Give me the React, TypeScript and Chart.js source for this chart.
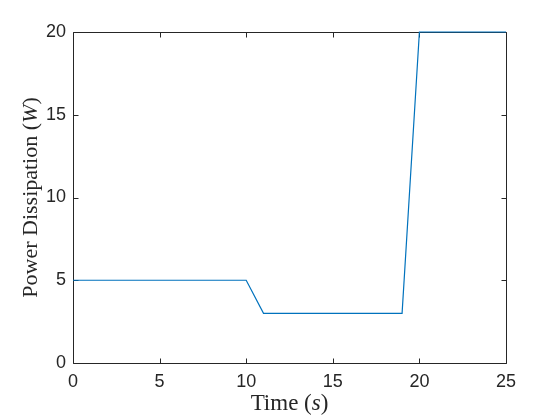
import React, { useEffect, useRef } from "react";
import { Chart, registerables } from "chart.js";

Chart.register(...registerables);

const timeValues = [0, 10, 11, 19, 20, 25];
const powerValues = [5, 5, 3, 3, 20, 20];
const xTicks = [0, 5, 10, 15, 20, 25];
const yTicks = [0, 5, 10, 15, 20];

const AXIS_COLOR = "#262626";
const LINE_COLOR = "#0072BD";
const TICK_FONT = "Liberation Sans";
const TITLE_FONT = "Liberation Serif";

function drawParts(ctx: CanvasRenderingContext2D, parts: { t: string; italic: boolean }[], size: number) {
  const widths = parts.map((p) => {
    ctx.font = `${p.italic ? "italic " : ""}${size}px "${TITLE_FONT}"`;
    return ctx.measureText(p.t).width;
  });
  const total = widths.reduce((a, b) => a + b, 0);
  let x = -total / 2;
  parts.forEach((p, i) => {
    ctx.font = `${p.italic ? "italic " : ""}${size}px "${TITLE_FONT}"`;
    ctx.fillText(p.t, x, 0);
    x += widths[i];
  });
}

const framePlugin = {
  id: "matlabFrame",
  beforeDatasetsDraw(chart: any) {
    const ctx = chart.ctx as CanvasRenderingContext2D;
    const { left, right, top, bottom } = chart.chartArea;
    const xs = chart.scales.x;
    const ys = chart.scales.y;
    ctx.save();
    ctx.strokeStyle = AXIS_COLOR;
    ctx.lineWidth = 1;
    const l = Math.round(left) + 0.5;
    const r = Math.round(right) + 0.5;
    const t = Math.round(top) + 0.5;
    const b = Math.round(bottom) + 0.5;
    ctx.beginPath();
    ctx.rect(l, t, r - l, b - t);
    const tl = 5;
    xTicks.forEach((v) => {
      const px = Math.round(xs.getPixelForValue(v)) + 0.5;
      ctx.moveTo(px, b);
      ctx.lineTo(px, b - tl);
      ctx.moveTo(px, t);
      ctx.lineTo(px, t + tl);
    });
    yTicks.forEach((v) => {
      const py = Math.round(ys.getPixelForValue(v)) + 0.5;
      ctx.moveTo(l, py);
      ctx.lineTo(l + tl, py);
      ctx.moveTo(r, py);
      ctx.lineTo(r - tl, py);
    });
    ctx.stroke();
    ctx.restore();
  },
  afterDraw(chart: any) {
    const ctx = chart.ctx as CanvasRenderingContext2D;
    const { left, right, top, bottom } = chart.chartArea;
    ctx.save();
    ctx.fillStyle = AXIS_COLOR;
    ctx.textBaseline = "alphabetic";
    ctx.textAlign = "left";
    // x title
    ctx.save();
    ctx.translate((left + right) / 2, 410);
    drawParts(ctx, [
      { t: "Time (", italic: false },
      { t: "s", italic: true },
      { t: ")", italic: false },
    ], 23);
    ctx.restore();
    // y title
    ctx.save();
    ctx.translate(37, (top + bottom) / 2);
    ctx.rotate(-Math.PI / 2);
    drawParts(ctx, [
      { t: "Power Dissipation (", italic: false },
      { t: "W", italic: true },
      { t: ")", italic: false },
    ], 22);
    ctx.restore();
    ctx.restore();
  },
};

export default function App() {
  const ref = useRef<HTMLCanvasElement | null>(null);
  useEffect(() => {
    if (!ref.current) return;
    const chart = new Chart(ref.current, {
      type: "line",
      data: {
        datasets: [
          {
            data: timeValues.map((x, i) => ({ x, y: powerValues[i] })),
            borderColor: LINE_COLOR,
            borderWidth: 1.2,
            pointRadius: 0,
            fill: false,
            tension: 0,
            clip: false,
          },
        ],
      },
      options: {
        responsive: false,
        animation: false,
        layout: { padding: { top: 32, right: 54, left: 0, bottom: 0 } },
        plugins: { legend: { display: false }, tooltip: { enabled: false } },
        scales: {
          x: {
            type: "linear",
            min: 0,
            max: 25,
            afterFit: (s: any) => {
              s.height = 57;
            },
            afterBuildTicks: (s: any) => {
              s.ticks = xTicks.map((v) => ({ value: v }));
            },
            grid: { display: false, drawTicks: false },
            border: { display: false },
            ticks: {
              padding: 8,
              color: AXIS_COLOR,
              font: { family: TICK_FONT, size: 18 },
              maxRotation: 0,
            },
          },
          y: {
            type: "linear",
            min: 0,
            max: 20,
            afterFit: (s: any) => {
              s.width = 73;
            },
            afterBuildTicks: (s: any) => {
              s.ticks = yTicks.map((v) => ({ value: v }));
            },
            grid: { display: false, drawTicks: false },
            border: { display: false },
            ticks: {
              padding: 7,
              color: AXIS_COLOR,
              font: { family: TICK_FONT, size: 18 },
            },
          },
        },
      },
      plugins: [framePlugin],
    });
    return () => chart.destroy();
  }, []);
  return (
    <div style={{ position: "absolute", left: 0, top: 0, width: 560, height: 420, background: "#fff" }}>
      <canvas ref={ref} width={560} height={420} style={{ display: "block" }} />
    </div>
  );
}
